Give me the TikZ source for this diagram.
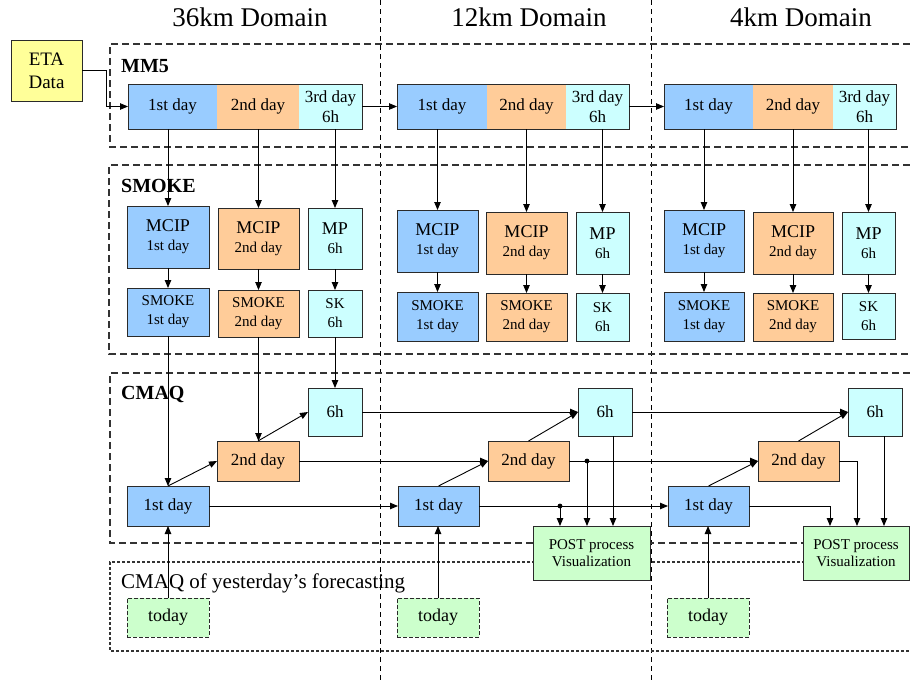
\documentclass[tikz,border=0pt]{standalone}
\usepackage{fontspec}
\setmainfont{Liberation Serif}
\usetikzlibrary{arrows.meta}
\definecolor{cblue}{HTML}{99CCFF}
\definecolor{corange}{HTML}{FFCC99}
\definecolor{ccyan}{HTML}{CCFFFF}
\definecolor{cgreen}{HTML}{CCFFCC}
\definecolor{cyellow}{HTML}{FFFF99}
\definecolor{edgecol}{HTML}{2A2A2A}
\definecolor{grpcol}{HTML}{333333}
\newcommand{\fsz}[2]{\fontsize{#1pt}{#2pt}\selectfont}
\tikzset{
  box/.style={draw=edgecol, line width=1pt, inner sep=0pt, outer sep=0pt, align=center, font=\fsz{17}{20}},
  seg/.style={inner sep=0pt, outer sep=0pt, align=center, minimum height=45pt, font=\fsz{17}{20}},
  mcipbox/.style={box, font=\fsz{15}{19}},
  smkbox/.style={box, font=\fsz{15}{19}},
  postbox/.style={box, fill=cgreen, font=\fsz{15}{17}},
  todaybox/.style={box, fill=cgreen, dash pattern=on 4pt off 2pt, font=\fsz{18}{20}},
  arr/.style={-{Triangle[length=8pt,width=6.5pt]}, line width=0.9pt, draw=black},
  grp/.style={draw=grpcol, line width=1.1pt, dash pattern=on 7pt off 4pt},
  grpfine/.style={draw=grpcol, line width=1.1pt, dash pattern=on 3pt off 2pt},
  domline/.style={draw=black, line width=1pt, dash pattern=on 5pt off 4pt},
  grplabel/.style={inner sep=0pt, font=\fsz{20}{22}\bfseries},
  header/.style={inner sep=0pt, font=\fsz{27}{29}},
  dot/.style={fill=black}
}
\begin{document}
\begin{tikzpicture}[x=1pt,y=-1pt]
\useasboundingbox (0,0) rectangle (910,680);

% domain separators
\draw[domline] (380,0) -- (380,680);
\draw[domline] (651,0) -- (651,680);

% headers
\node[header, anchor=base] (h1) at (250,27) {36km Domain};
\node[header, anchor=base] (h2) at (529,27) {12km Domain};
\node[header, anchor=base] (h3) at (801,27) {4km Domain};

% group frames
\draw[grp] (910,44) -| (110,147) -- (910,147);
\draw[grp] (910,165) -| (109,354) -- (910,354);
\draw[grp] (910,373) -| (110,543) -- (910,543);
\draw[grpfine] (910,562) -| (110,651) -- (910,651);

\node[grplabel, anchor=base west] (lmm5) at (121,72) {MM5};
\node[grplabel, anchor=base west] (lsmoke) at (121,192) {SMOKE};
\node[grplabel, anchor=base west] (lcmaq) at (121,399) {CMAQ};
\node[inner sep=0pt, anchor=base west, font=\fsz{21}{23}] (lyest) at (121,588) {CMAQ of yesterday’s forecasting};

% ETA
\node[box, fill=cyellow, minimum width=71pt, minimum height=61pt, font=\fsz{19}{23}] (eta) at (46.5,70.5) {ETA\\Data};

% MM5 bars
\node[seg, fill=cblue, minimum width=89pt] (m1a) at (172.5,106.5) {1st day};
\node[seg, fill=corange, minimum width=82pt] (m1b) at (258,106.5) {2nd day};
\node[seg, fill=ccyan, minimum width=63pt] (m1c) at (330.5,106.5) {3rd day\\6h};
\draw[draw=edgecol, line width=1pt] (m1a.north west) rectangle (m1c.south east);

\node[seg, fill=cblue, minimum width=90pt] (m2a) at (442,106.5) {1st day};
\node[seg, fill=corange, minimum width=79pt] (m2b) at (526.5,106.5) {2nd day};
\node[seg, fill=ccyan, minimum width=63pt] (m2c) at (597.5,106.5) {3rd day\\6h};
\draw[draw=edgecol, line width=1pt] (m2a.north west) rectangle (m2c.south east);

\node[seg, fill=cblue, minimum width=89pt] (m3a) at (708.5,106.5) {1st day};
\node[seg, fill=corange, minimum width=80pt] (m3b) at (793,106.5) {2nd day};
\node[seg, fill=ccyan, minimum width=63pt] (m3c) at (864.5,106.5) {3rd day\\6h};
\draw[draw=edgecol, line width=1pt] (m3a.north west) rectangle (m3c.south east);

% SMOKE blocks
\node[mcipbox, fill=cblue, minimum width=82pt, minimum height=62pt] (s1a) at (168,237) {{\fsz{18}{19}MCIP}\\1st day};
\node[mcipbox, fill=corange, minimum width=81pt, minimum height=61pt] (s1b) at (258.5,238.5) {{\fsz{18}{19}MCIP}\\2nd day};
\node[mcipbox, fill=ccyan, minimum width=54pt, minimum height=61pt] (s1c) at (335,238.5) {{\fsz{18}{19}MP}\\6h};
\node[smkbox, fill=cblue, minimum width=82pt, minimum height=48pt] (k1a) at (168,312) {SMOKE\\1st day};
\node[smkbox, fill=corange, minimum width=81pt, minimum height=47pt] (k1b) at (258.5,313.5) {SMOKE\\2nd day};
\node[smkbox, fill=ccyan, minimum width=54pt, minimum height=47pt] (k1c) at (335,313.5) {SK\\6h};

\node[mcipbox, fill=cblue, minimum width=81pt, minimum height=62pt] (s2a) at (437.5,241) {{\fsz{18}{19}MCIP}\\1st day};
\node[mcipbox, fill=corange, minimum width=81pt, minimum height=62pt] (s2b) at (526.5,243) {{\fsz{18}{19}MCIP}\\2nd day};
\node[mcipbox, fill=ccyan, minimum width=53pt, minimum height=62pt] (s2c) at (602.5,243) {{\fsz{18}{19}MP}\\6h};
\node[smkbox, fill=cblue, minimum width=81pt, minimum height=49pt] (k2a) at (437.5,316.5) {SMOKE\\1st day};
\node[smkbox, fill=corange, minimum width=81pt, minimum height=48pt] (k2b) at (526.5,317) {SMOKE\\2nd day};
\node[smkbox, fill=ccyan, minimum width=53pt, minimum height=48pt] (k2c) at (602.5,317) {SK\\6h};

\node[mcipbox, fill=cblue, minimum width=80pt, minimum height=62pt] (s3a) at (704,241) {{\fsz{18}{19}MCIP}\\1st day};
\node[mcipbox, fill=corange, minimum width=80pt, minimum height=62pt] (s3b) at (793,243) {{\fsz{18}{19}MCIP}\\2nd day};
\node[mcipbox, fill=ccyan, minimum width=53pt, minimum height=62pt] (s3c) at (868.5,243) {{\fsz{18}{19}MP}\\6h};
\node[smkbox, fill=cblue, minimum width=80pt, minimum height=49pt] (k3a) at (704,316.5) {SMOKE\\1st day};
\node[smkbox, fill=corange, minimum width=80pt, minimum height=48pt] (k3b) at (793,317) {SMOKE\\2nd day};
\node[smkbox, fill=ccyan, minimum width=53pt, minimum height=46pt] (k3c) at (868.5,316) {SK\\6h};

% CMAQ blocks
\node[box, fill=cblue, minimum width=82pt, minimum height=40pt] (c1a) at (168,506) {1st day};
\node[box, fill=corange, minimum width=82pt, minimum height=40pt] (c1b) at (258,461) {2nd day};
\node[box, fill=ccyan, minimum width=54pt, minimum height=48pt] (c1c) at (335,412) {6h};

\node[box, fill=cblue, minimum width=81pt, minimum height=40pt] (c2a) at (438.5,506) {1st day};
\node[box, fill=corange, minimum width=81pt, minimum height=40pt] (c2b) at (528.5,461) {2nd day};
\node[box, fill=ccyan, minimum width=54pt, minimum height=48pt] (c2c) at (605,412) {6h};

\node[box, fill=cblue, minimum width=81pt, minimum height=40pt] (c3a) at (708.5,506) {1st day};
\node[box, fill=corange, minimum width=81pt, minimum height=40pt] (c3b) at (798.5,461) {2nd day};
\node[box, fill=ccyan, minimum width=54pt, minimum height=48pt] (c3c) at (875,412) {6h};

% POST boxes
\node[postbox, minimum width=117pt, minimum height=54pt] (p2) at (591.5,553) {POST process\\Visualization};
\node[postbox, minimum width=106pt, minimum height=54pt] (p3) at (856,553) {POST process\\Visualization};

% today boxes
\node[todaybox, minimum width=82pt, minimum height=39pt] (t1) at (168,617.5) {today};
\node[todaybox, minimum width=82pt, minimum height=39pt] (t2) at (438,617.5) {today};
\node[todaybox, minimum width=82pt, minimum height=39pt] (t3) at (708,617.5) {today};

% ---- connectors ----
\draw[arr] (eta.east) -- ++(24,0) |- (m1a.west);
\draw[arr] (m1c.east) -- (m2a.west);
\draw[arr] (m2c.east) -- (m3a.west);

\foreach \i in {1,2,3} {
  \foreach \c in {a,b,c} {
    \draw[arr] (s\i\c.north |- m\i\c.south) -- (s\i\c.north);
    \draw[arr] (s\i\c.south) -- (s\i\c.south |- k\i\c.north);
  }
}

\draw[arr] (k1a.south) -- (k1a.south |- c1a.north);
\draw[arr] (k1b.south) -- (k1b.south |- c1b.north);
\draw[arr] (k1c.south) -- (k1c.south |- c1c.north);

\foreach \a/\b/\c in {c1a/c1b/c1c, c2a/c2b/c2c, c3a/c3b/c3c} {
  \draw[arr] (\a.north) -- (\b.west);
  \draw[arr] (\b.north) -- (\c.west);
}

\draw[arr] (c1a.east) -- (c2a.west);
\draw[arr] (c1b.east) -- (c2b.west);
\draw[arr] (c1c.east) -- (c2c.west);
\draw[arr] (c2a.east) -- (c3a.west);
\draw[arr] (c2b.east) -- (c3b.west);
\draw[arr] (c2c.east) -- (c3c.west);

\path (c2a.east) ++(81,0) coordinate (d1);
\path (c2b.east) ++(18,0) coordinate (d2);
\fill[dot] (d1) circle (2.4pt);
\fill[dot] (d2) circle (2.4pt);
\draw[arr] (d1) -- (d1 |- p2.north);
\draw[arr] (d2) -- (d2 |- p2.north);
\draw[arr] ([xshift=8pt]c2c.south) -- ([xshift=8pt]c2c.south |- p2.north);

\draw[arr] (c3a.east) -| ([xshift=-26pt]p3.north);
\draw[arr] (c3b.east) -| ([xshift=1pt]p3.north);
\draw[arr] ([xshift=9pt]c3c.south) -- ([xshift=9pt]c3c.south |- p3.north);

\draw[arr] (t1.north) -- (t1.north |- c1a.south);
\draw[arr] (t2.north) -- (t2.north |- c2a.south);
\draw[arr] (t3.north) -- (t3.north |- c3a.south);
\end{tikzpicture}
\end{document}
